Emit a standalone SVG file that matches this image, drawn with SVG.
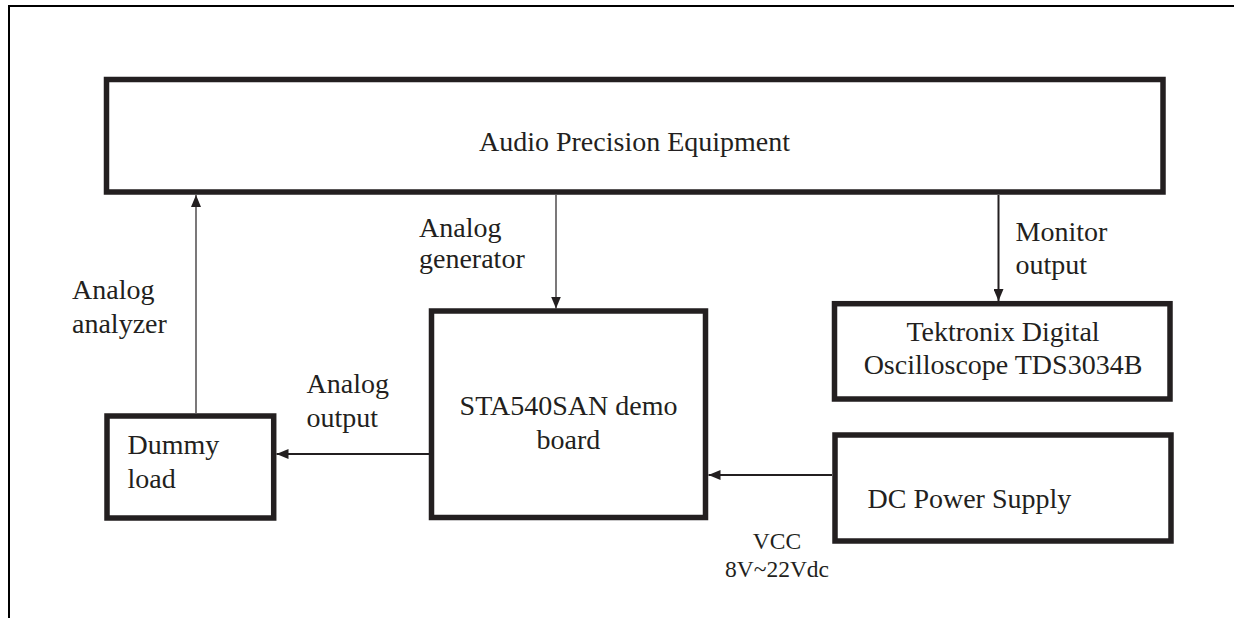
<svg xmlns="http://www.w3.org/2000/svg" width="1234" height="618" viewBox="0 0 1234 618">
<defs>
<style>
.box{fill:#fff;stroke:#231f20;stroke-width:5.5}
.t{font-family:"Liberation Serif","Times New Roman",serif;font-size:28px;fill:#231f20}
.s{font-family:"Liberation Serif","Times New Roman",serif;font-size:23.5px;fill:#231f20}
.c{stroke:#231f20;fill:none}
</style>
<marker id="ah" viewBox="0 0 12 10" refX="12" refY="5" markerWidth="12" markerHeight="10" markerUnits="userSpaceOnUse" orient="auto">
<path d="M0,0 L12,5 L0,10 z" fill="#231f20"/>
</marker>
</defs>
<rect width="1234" height="618" fill="#fff"/>
<g id="frame">
<path d="M8,6 H1234 M9,6 V618" stroke="#000" stroke-width="2" fill="none"/>
</g>
<g id="connectors">
<line class="c" x1="196" y1="413" x2="196" y2="195" stroke-width="1.2" marker-end="url(#ah)"/>
<line class="c" x1="556" y1="195" x2="556" y2="308.5" stroke-width="1.2" marker-end="url(#ah)"/>
<line class="c" x1="998.5" y1="195" x2="998.5" y2="301" stroke-width="2" marker-end="url(#ah)"/>
<line class="c" x1="429" y1="454" x2="276.5" y2="454" stroke-width="2" marker-end="url(#ah)"/>
<line class="c" x1="832" y1="475" x2="708.5" y2="475" stroke-width="2" marker-end="url(#ah)"/>
<text class="t" x="72" y="299">Analog</text>
<text class="t" x="72" y="333">analyzer</text>
<text class="t" x="419" y="237">Analog</text>
<text class="t" x="419" y="268">generator</text>
<text class="t" x="1015.5" y="241">Monitor</text>
<text class="t" x="1015.5" y="274">output</text>
<text class="t" x="306.5" y="393">Analog</text>
<text class="t" x="306.5" y="426.5">output</text>
<text class="s" x="777" y="549" text-anchor="middle">VCC</text>
<text class="s" x="777" y="576.5" text-anchor="middle">8V~22Vdc</text>
</g>
<g id="audio-precision">
<rect class="box" x="106.5" y="79.5" width="1056.5" height="112.5"/>
<text class="t" x="634.5" y="151" text-anchor="middle" font-size="29.5">Audio Precision Equipment</text>
</g>
<g id="sta540san">
<rect class="box" x="431.5" y="311" width="274" height="206.5"/>
<text class="t" x="568.5" y="415" text-anchor="middle">STA540SAN demo</text>
<text class="t" x="568.5" y="448.5" text-anchor="middle">board</text>
</g>
<g id="tektronix">
<rect class="box" x="834.5" y="303.7" width="335.5" height="95.3"/>
<text class="t" x="1003" y="340.5" text-anchor="middle">Tektronix Digital</text>
<text class="t" x="1003" y="374" text-anchor="middle">Oscilloscope TDS3034B</text>
</g>
<g id="dummy-load">
<rect class="box" x="107" y="416" width="166.7" height="102"/>
<text class="t" x="127.5" y="454">Dummy</text>
<text class="t" x="127.5" y="487.5">load</text>
</g>
<g id="dc-power">
<rect class="box" x="835" y="435" width="336" height="106"/>
<text class="t" x="867.5" y="507.5">DC Power Supply</text>
</g>
</svg>
